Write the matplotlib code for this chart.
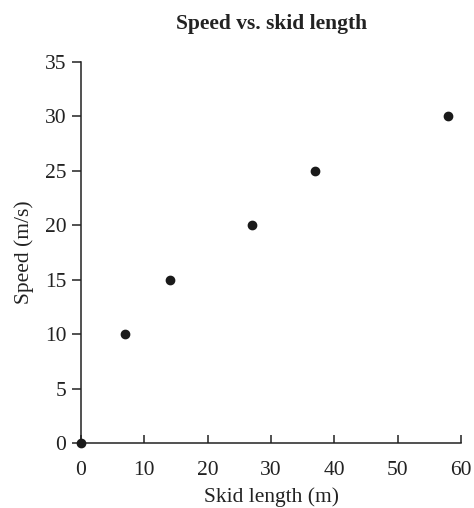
import matplotlib
matplotlib.use("Agg")
import matplotlib.pyplot as plt

skid_length = [0, 7, 14, 27, 37, 58]
speed = [0, 10, 15, 20, 25, 30]
x_ticks = [0, 10, 20, 30, 40, 50, 60]
y_ticks = [0, 5, 10, 15, 20, 25, 30, 35]

plt.rcParams['font.family'] = ['Liberation Serif', 'DejaVu Serif']

fig = plt.figure(figsize=(4.74, 5.08), dpi=100)
ax = fig.add_axes([0.171, 0.128, 0.8016, 0.75])

ax.scatter(skid_length, speed, s=36, color='#1a1a1a', zorder=3, clip_on=False)

ax.set_xlim(0, 60)
ax.set_ylim(0, 35)
ax.set_xticks(x_ticks)
ax.set_yticks(y_ticks)

for side in ('top', 'right'):
    ax.spines[side].set_visible(False)
for side in ('left', 'bottom'):
    ax.spines[side].set_linewidth(1.1)
    ax.spines[side].set_color('#222222')

ax.tick_params(axis='y', direction='out', length=6.5, width=1.1, labelsize=15.5, pad=4, colors='#222222')
ax.tick_params(axis='x', direction='in', length=6, width=1.1, labelsize=15.5, pad=13, colors='#222222')

ax.set_xlabel('Skid length (m)', fontsize=15.5, labelpad=5, color='#222222')
ax.set_ylabel('Speed (m/s)', fontsize=15.5, labelpad=8, color='#222222')
fig.text(0.572, 0.952, 'Speed vs. skid length', ha='center', va='center',
         fontsize=15.5, fontweight='bold', color='#222222')

fig.savefig('out.png', dpi=100)
